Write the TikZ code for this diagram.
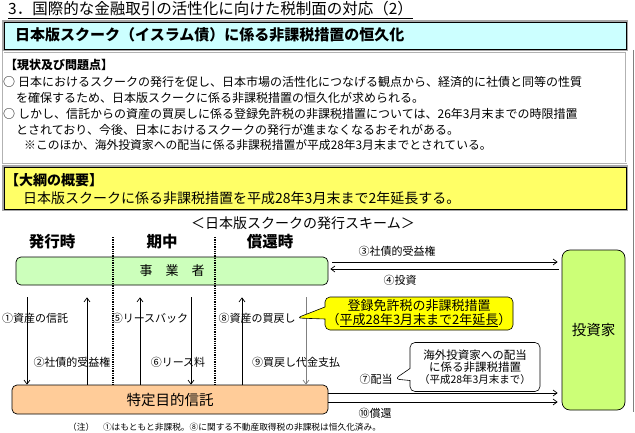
\documentclass[tikz,border=0pt]{standalone}
\usepackage{fontspec}
\setmainfont{Noto Sans CJK JP}
\usetikzlibrary{arrows.meta,shapes.callouts}
\definecolor{cyanpanel}{HTML}{CCFFFF}
\definecolor{yellowpanel}{HTML}{FFFF66}
\definecolor{jigyogreen}{HTML}{CCFFBB}
\definecolor{investgreen}{HTML}{CCFF77}
\definecolor{trustorange}{HTML}{FFCC99}
\definecolor{calloutyellow}{HTML}{FFFF00}
\begin{document}
\begin{tikzpicture}[x=1pt,y=-1pt,
  flow/.style={-{Straight Barb[length=4pt,width=6pt]},line width=0.7pt},
  lbl/.style={font=\fontsize{11}{13}\selectfont,inner sep=1pt},
  txt/.style={anchor=west,inner sep=0pt,font=\fontsize{12}{14}\selectfont},
  head/.style={font=\bfseries\fontsize{15.5}{18}\selectfont},
  actor/.style={draw,rounded corners=5pt,line width=0.7pt,inner sep=0pt},
  callbox/.style={rectangle callout,draw,rounded corners=5pt,align=center,inner sep=0pt,line width=0.6pt,callout pointer width=12pt}]
\useasboundingbox (0,0) rectangle (635,433);

% title and panels
\node[anchor=west,inner sep=0pt,font=\fontsize{15.5}{18}\selectfont] (ttl) at (8,10) {\underline{3．国際的な金融取引の活性化に向けた税制面の対応（2）}};
\draw[gray!70,line width=2pt] (3,21) rectangle (627,50);
\draw[fill=cyanpanel,line width=0.8pt] (4,22) rectangle (626,49);
\node[anchor=west,inner sep=0pt,font=\bfseries\fontsize{15}{18}\selectfont] (sub) at (15,35) {日本版スクーク（イスラム債）に係る非課税措置の恒久化};

\draw[gray!60,double=white,double distance=1pt,line width=0.8pt] (3,52) rectangle (626,163);
\node[txt,font=\bfseries\fontsize{12}{14}\selectfont] (stat) at (5,65) {【現状及び問題点】};
\node[txt] (st1) at (3,82) {○\hspace{3pt}日本におけるスクークの発行を促し、日本市場の活性化につなげる観点から、経済的に社債と同等の性質};
\node[txt] (st2) at (16,98) {を確保するため、日本版スクークに係る非課税措置の恒久化が求められる。};
\node[txt] (st3) at (3,114) {○\hspace{3pt}しかし、信託からの資産の買戻しに係る登録免許税の非課税措置については、26年3月末までの時限措置};
\node[txt] (st4) at (16,130) {とされており、今後、日本におけるスクークの発行が進まなくなるおそれがある。};
\node[txt,font=\fontsize{11.8}{14}\selectfont] (st5) at (24,145) {※このほか、海外投資家への配当に係る非課税措置が平成28年3月末までとされている。};

\draw[gray!70,line width=2pt] (3,166) rectangle (627,210);
\draw[fill=yellowpanel,line width=0.8pt] (4,167) rectangle (626,209);
\node[txt,font=\bfseries\fontsize{14}{16}\selectfont] (out) at (5,180) {【大綱の概要】};
\node[txt,font=\fontsize{14}{16}\selectfont] (out1) at (23,198) {日本版スクークに係る非課税措置を平成28年3月末まで2年延長する。};
\draw[gray,line width=0.6pt] (633,50) -- (633,412);

% scheme
\node[font=\fontsize{14}{16}\selectfont] (scheme) at (303,223) {＜日本版スクークの発行スキーム＞};
\node[head] (h1) at (52,242) {発行時};
\node[head] (h2) at (162,242) {期中};
\node[head] (h3) at (270,242) {償還時};

\node[actor,fill=jigyogreen,minimum width=312pt,minimum height=28pt] (jigyo) at (172,271) {\fontsize{13}{15}\selectfont 事　業　者};
\node[actor,fill=trustorange,minimum width=316pt,minimum height=29pt] (trust) at (170,399.5) {\fontsize{14.5}{16}\selectfont 特定目的信託};
\node[actor,fill=investgreen,minimum width=63pt,minimum height=160pt,rounded corners=8pt] (investor) at (593.5,330) {\fontsize{14.5}{16}\selectfont 投資家};

\draw[densely dotted,line width=1.3pt] (113,237) -- (113,385);
\draw[densely dotted,line width=1.3pt] (215,237) -- (215,385);

\foreach \n/\x in {a/27,b/87,c/140,d/191,e/242,f/306}
  \coordinate (col\n) at (\x,0);

\node[lbl,anchor=west] (l1) at (1,318) {①資産の信託};
\node[lbl] (l2) at (72,362) {②社債的受益権};
\node[lbl] (l5) at (150,318) {⑤リースバック};
\node[lbl] (l6) at (178,362) {⑥リース料};
\node[lbl] (l8) at (257,318) {⑧資産の買戻し};
\node[lbl] (l9) at (296,362) {⑨買戻し代金支払};
\node[lbl] (l3) at (397,251) {③社債的受益権};
\node[lbl] (l4) at (400,280) {④投資};
\node[lbl] (l7) at (376,379) {⑦配当};
\node[lbl] (l10) at (375,413) {⑩償還};

\draw[flow,shorten <=12pt] (jigyo.south -| cola) -- (trust.north -| cola);
\draw[flow,shorten >=12pt] (trust.north -| colb) -- (jigyo.south -| colb);
\draw[flow,shorten >=12pt] (trust.north -| colc) -- (jigyo.south -| colc);
\draw[flow,shorten <=12pt] (jigyo.south -| cold) -- (trust.north -| cold);
\draw[flow,shorten >=12pt] (trust.north -| cole) -- (jigyo.south -| cole);
\draw[flow,gray,shorten <=12pt] (jigyo.south -| colf) -- (trust.north -| colf);

\draw[flow,shorten <=4pt,shorten >=4pt] ([yshift=9pt]jigyo.east) -- ([yshift=9pt]jigyo.east -| investor.west);
\draw[flow,shorten <=3pt,shorten >=2pt] ([yshift=2pt]jigyo.east -| investor.west) -- ([yshift=2pt]jigyo.east);
\draw[flow,shorten >=4pt] ([yshift=6.5pt]trust.east) -- ([yshift=6.5pt]trust.east -| investor.west);
\draw[flow,shorten >=4pt] ([yshift=-2.5pt]trust.east) -- ([yshift=-2.5pt]trust.east -| investor.west);

\node[callbox,fill=calloutyellow,minimum width=188pt,minimum height=33pt,callout absolute pointer={(l8.east)}] (tax) at (419,313.5)
  {\fontsize{13}{16}\selectfont 登録免許税の非課税措置\\\fontsize{13}{16}\selectfont （\underline{平成28年3月末まで2年延長}）};
\node[callbox,fill=white,minimum width=130pt,minimum height=49pt,callout absolute pointer={([xshift=1pt]l7.east)}] (div) at (475,367)
  {\fontsize{11.5}{15.5}\selectfont 海外投資家への配当\\\fontsize{11.5}{15.5}\selectfont に係る非課税措置\\\fontsize{10.5}{15.5}\selectfont （平成28年3月末まで）};

\node[anchor=west,inner sep=0pt,font=\fontsize{8.7}{10}\selectfont] (fn) at (68,427) {（注）　①はもともと非課税。⑧に関する不動産取得税の非課税は恒久化済み。};
\end{tikzpicture}
\end{document}
